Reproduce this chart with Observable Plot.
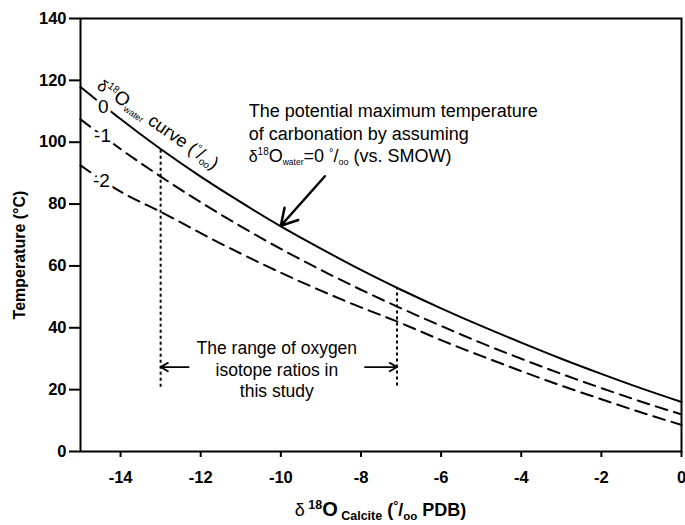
<!DOCTYPE html>
<html><head><meta charset="utf-8">
<script src="https://cdn.jsdelivr.net/npm/d3@7"></script>
<script src="https://cdn.jsdelivr.net/npm/@observablehq/plot@0.6"></script>
<style>
html,body{margin:0;padding:0;background:#fff;}
#chart svg{display:block;}
</style></head><body><div id="chart"></div>
<script>
// δ18O calcite (‰ PDB)
const xCalcite = [-15,-14,-13,-12,-11,-10,-9,-8,-7,-6,-5,-4,-3,-2,-1,0];
// temperature (°C) for δ18O water = 0, -1, -2 ‰
const tWater0  = [117.9,107.5,97.8,88.9,80.6,72.8,65.6,58.7,52.3,46.3,40.6,35.2,30.0,25.1,20.4,16.0];
const tWaterM1 = [107.4,97.8,88.9,80.6,72.8,65.5,58.7,52.3,46.3,40.6,35.1,30.0,25.1,20.5,16.1,12.0];
const tWaterM2 = [92.5,84.0,77.5,70.6,64.0,57.8,52.0,46.6,41.5,36.0,30.9,26.0,21.3,16.9,12.6,8.6];
const xTicks = [-14,-12,-10,-8,-6,-4,-2,0];
const yTicks = [0,20,40,60,80,100,120,140];
const curveLabels = ["0","-1","-2"];
const curveLabelX = [-14.43,-14.45,-14.48];
const curveLabelT = [111.5,102.2,87.6];
const rangeX = [-13,-7.1];
const rangeTop = [97.8,52.9];
const rangeBottom = [20.8,21.2];
const rangeArrowFrom = [-12.3,-7.9];
const rangeArrowT = 27.3;
const rangeText = "The range of oxygen\nisotope ratios in\nthis study";
const rangeTextPos = [-10.1, 26.8];
const maxLines = ["The potential maximum temperature","of carbonation by assuming"];
const maxPos = [-10.79, 107.9];
const maxArrow = [-8.9, 89, -10.0, 73];
const FONT = "'Liberation Sans', Arial, Helvetica, sans-serif";

const series = [["0", tWater0], ["-1", tWaterM1], ["-2", tWaterM2]];
const rows = series.flatMap(([s, ts]) => xCalcite.map((x, i) => ({x, t: ts[i], s})));
const idx = [0, 1, 2];

const chart = Plot.plot({
  width: 685, height: 525,
  marginLeft: 80, marginRight: 4, marginTop: 18, marginBottom: 74,
  style: {fontFamily: FONT, fontSize: "16.5px", background: "white", color: "black"},
  x: {domain: [-15, 0]},
  y: {domain: [0, 140]},
  marks: [
    Plot.axisX({ticks: xTicks, tickSize: 6, tickPadding: 14, label: null, fontWeight: "bold", strokeWidth: 2, tickFormat: d => String(d).replace("−","-")}),
    Plot.axisY({ticks: yTicks, tickSize: 11, tickPadding: 3, label: null, fontWeight: "bold", strokeWidth: 2}),
    Plot.frame({stroke: "black", strokeWidth: 2}),
    Plot.line(rows.filter(d => d.s === "0"), {x: "x", y: "t", stroke: "black", strokeWidth: 2, curve: "natural"}),
    Plot.line(rows.filter(d => d.s !== "0"), {x: "x", y: "t", z: "s", stroke: "black", strokeWidth: 2, strokeDasharray: "12,7", curve: "natural"}),
    Plot.ruleX([0, 1], {x: i => rangeX[i], y1: i => rangeBottom[i], y2: i => rangeTop[i], stroke: "black", strokeWidth: 2, strokeDasharray: "3,3"}),
    Plot.arrow([0, 1], {x1: i => rangeArrowFrom[i], x2: i => rangeX[i], y1: rangeArrowT, y2: rangeArrowT, stroke: "black", strokeWidth: 1.8, headLength: 7}),
    Plot.text([rangeText], {x: rangeTextPos[0], y: rangeTextPos[1], text: d => d, fontSize: 17.5, lineHeight: 1.25, textAnchor: "middle", fill: "black"}),
    Plot.arrow([maxArrow], {x1: d => d[0], y1: d => d[1], x2: d => d[2], y2: d => d[3], stroke: "black", strokeWidth: 2.5, headLength: 11}),
    Plot.text(idx, {x: i => curveLabelX[i], y: i => curveLabelT[i], text: i => curveLabels[i], fontSize: 19, stroke: "white", strokeWidth: 7, fill: "black", textAnchor: "middle"})
  ]
});
document.getElementById("chart").appendChild(chart);

const sx = chart.scale("x"), sy = chart.scale("y");
const svg = d3.select(chart);
function rich(px, py, segs, opts) {
  const t = svg.append("text").attr("x", px).attr("y", py)
    .attr("text-anchor", opts.anchor || "start").attr("font-family", FONT)
    .attr("font-size", opts.size).attr("font-weight", opts.weight || "normal").attr("fill", "black");
  if (opts.rotate) t.attr("transform", `rotate(${opts.rotate},${px},${py})`);
  if (opts.halo) t.attr("stroke", "white").attr("stroke-width", opts.halo).attr("paint-order", "stroke");
  let cur = 0;
  segs.forEach(s => {
    const sh = s.shift || 0;
    const ts = t.append("tspan").attr("dy", sh - cur).attr("font-size", s.size || opts.size).text(s.t);
    if (s.weight) ts.attr("font-weight", s.weight);
    cur = sh;
  });
  return t;
}
// top annotation (lines 1-2 plain, line 3 rich)
const mx = sx.apply(maxPos[0]);
const my0 = sy.apply(maxPos[1]);
rich(mx, my0, [{t: maxLines[0]}], {size: 18});
rich(mx, my0 + 23, [{t: maxLines[1]}], {size: 18});
rich(mx, my0 + 45, [
  {t: "δ", size: 16}, {t: "18", size: 10, shift: -7}, {t: "O", size: 18}, {t: "water", size: 8.5, shift: 3},
  {t: "=0 ", size: 18}, {t: "°", size: 11, shift: -6}, {t: "/", size: 18}, {t: "oo", size: 9, shift: 3},
  {t: " (vs. SMOW)", size: 18}
], {size: 18});
// curve title along the curves
rich(sx.apply(-14.6), sy.apply(117.4), [
  {t: "δ", size: 16}, {t: "18", size: 10, shift: -7}, {t: "O", size: 19}, {t: "water", size: 9, shift: 3},
  {t: " curve (", size: 18}, {t: "°", size: 11, shift: -6}, {t: "/", size: 18}, {t: "oo", size: 10, shift: 3}, {t: ")", size: 18}
], {size: 18, rotate: 35, halo: 4});
// x-axis title
rich(sx.apply(-7.5), 516, [
  {t: "δ", size: 18, weight: "normal"}, {t: " 18", size: 12.5, shift: -7}, {t: "O", size: 20}, {t: " Calcite", size: 12.5, shift: 4},
  {t: " (", size: 18}, {t: "°", size: 12.5, shift: -6}, {t: "/", size: 18}, {t: "oo", size: 11.5, shift: 4}, {t: " PDB)", size: 18}
], {size: 18, weight: "bold", anchor: "middle"});
// y-axis title
rich(25, 255, [{t: "Temperature (°C)"}], {size: 16, weight: "bold", anchor: "middle", rotate: -90});
</script></body></html>
